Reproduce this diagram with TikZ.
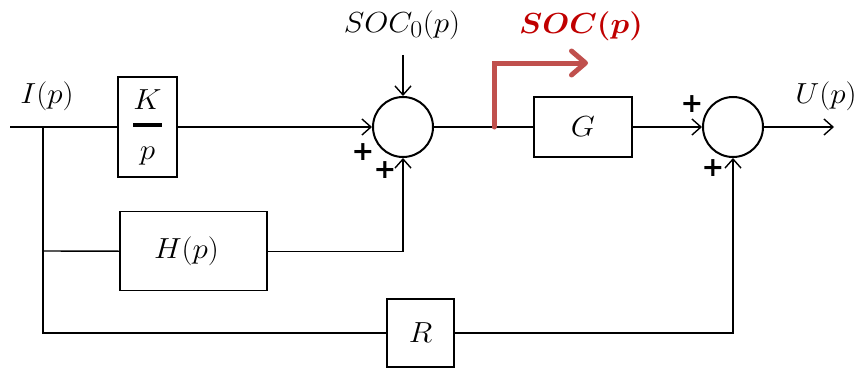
\documentclass[tikz,border=0pt]{standalone}
\usepackage{amsmath}
\usepackage{bm}
\usepackage{fontspec}
\newfontfamily\plusfont{DejaVu Sans}
\usetikzlibrary{arrows.meta}
\definecolor{socred}{RGB}{192,80,77}
\definecolor{soctext}{RGB}{192,0,0}
\newcommand{\wm}[1]{\scalebox{1.25}[1.166]{$#1$}}
\begin{document}
\begin{tikzpicture}[x=1pt,y=-1pt]
\tikzset{
 blk/.style={draw, line width=1.3pt, inner sep=0pt, font=\fontsize{24.88}{28}\selectfont},
 sumc/.style={draw, circle, line width=2pt, minimum size=60pt, inner sep=0pt},
 wire/.style={line width=1.4pt},
 arr/.style={wire, -{Straight Barb[length=9pt,width=16pt]}},
 lbl/.style={font=\fontsize{24.88}{28}\selectfont, inner sep=0pt},
 plus/.style={font=\plusfont\bfseries\fontsize{27}{30}\selectfont, inner sep=0pt},
 redarr/.style={draw=socred, line width=5pt, line cap=round, -{Straight Barb[length=14pt,width=24pt,round]}},
}
\useasboundingbox (0,0) rectangle (861,369);
% blocks
\node[sumc] (s1) at (403,127) {};
\node[sumc] (s2) at (733,127) {};
\node[blk, minimum width=59pt, minimum height=100pt] (kp) at (147.5,127) {\raisebox{-4pt}{\wm{\genfrac{}{}{3pt}{0}{K\rule[-3pt]{0pt}{3pt}}{\rule{0pt}{19pt}p}}}};
\node[blk, minimum width=98pt, minimum height=60pt] (g) at (583,127) {\wm{G}};
\node[blk, minimum width=147pt, minimum height=79pt] (h) at (193.5,251.2) {\hspace*{-14pt}\wm{H(p)}};
\node[blk, minimum width=67pt, minimum height=68pt] (r) at (420.5,333) {\wm{R}};
% coordinates
\coordinate (in) at (10,127);
\coordinate (br) at (43,127);
\coordinate (bh) at (43,251);
\coordinate (bb) at (43,333);
\coordinate (out) at (834,127);
\coordinate (soc0) at (403,55);
\coordinate (tap) at (494,127);
\coordinate (tapup) at (494,63);
\coordinate (tapend) at (588,63);
% connectors
\draw[wire] (in) -- (kp.west);
\draw[arr] (kp.east) -- (s1.west);
\draw[arr] (soc0) -- (s1.north);
\draw[wire] (s1.east) -- (g.west);
\draw[arr] (g.east) -- (s2.west);
\draw[arr] (s2.east) -- (out);
\draw[wire] (br) -- (bb) -- (r.west);
\draw[wire] (bh) -- (h.west);
\draw[arr] (h.east) -| (s1.south);
\draw[arr] (r.east) -| (s2.south);
\draw[redarr] (tap) -- (tapup) -- (tapend);
% labels
\node[lbl] (ilab) at (47,96) {\wm{I(p)}};
\node[lbl] (ulab) at (826,96) {\wm{U(p)}};
\node[lbl] (s0lab) at (402,25) {\wm{SOC_0(p)}};
\node[lbl, text=soctext] (soclab) at (581,26) {\wm{\bm{SOC(p)}}};
\node[plus] (p1) at (363,152) {+};
\node[plus] (p2) at (385,170) {+};
\node[plus] (p3) at (692,104) {+};
\node[plus] (p4) at (713,168) {+};
\end{tikzpicture}
\end{document}
